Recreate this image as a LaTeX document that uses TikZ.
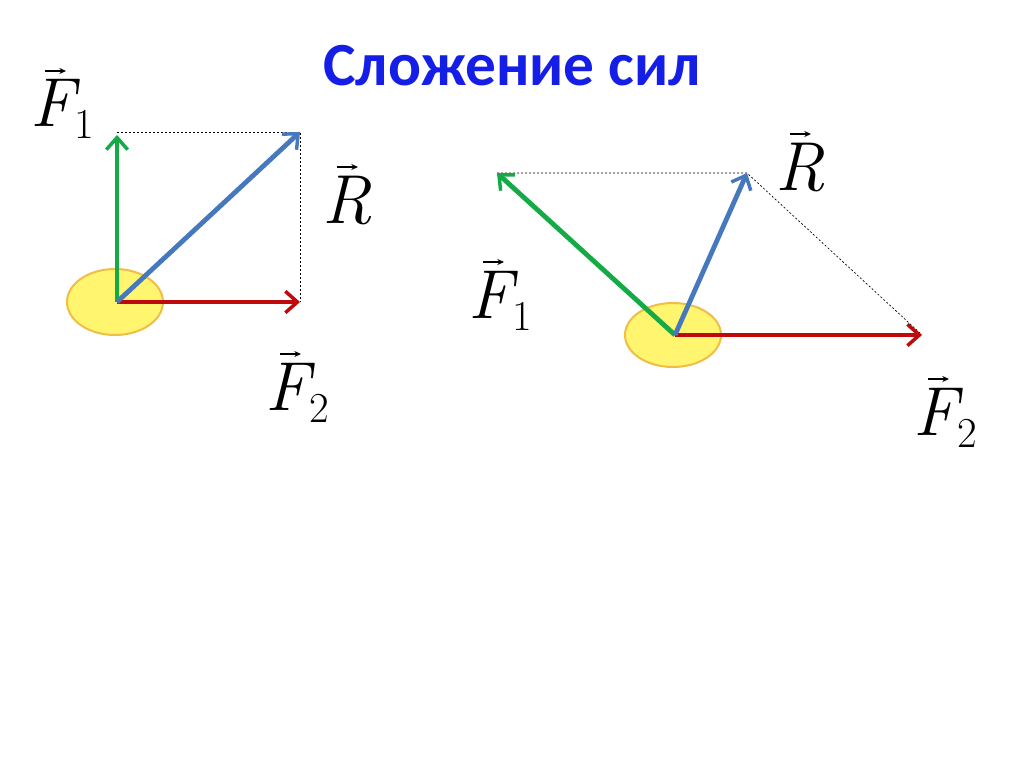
\documentclass[tikz,border=0pt]{standalone}
\usepackage{fontspec}
\newfontfamily\titlefont{Carlito}
\usetikzlibrary{arrows.meta}
\definecolor{tblue}{RGB}{20,30,230}
\definecolor{vgreen}{RGB}{20,170,70}
\definecolor{vblue}{RGB}{70,120,190}
\definecolor{vred}{RGB}{190,10,10}
\definecolor{ballfill}{RGB}{255,245,110}
\definecolor{balldraw}{RGB}{240,190,70}
\newcommand{\myvlab}[2]{{\fontsize{52}{60}\selectfont\itshape #1}{\fontsize{32}{36}\selectfont\raisebox{-9pt}{#2}}}
\begin{document}
\begin{tikzpicture}[x=0.75pt,y=-0.75pt,
  vec/.style={line width=3.6pt,-{Straight Barb[length=9pt,width=16pt,line width=2.6pt]}},
  ball/.style={draw=balldraw,line width=1.5pt,fill=ballfill},
  helper/.style={line width=0.5pt,dash pattern=on 1.5pt off 1.5pt},
  lab/.style={inner sep=0pt,anchor=base west},
  accarrow/.style={line width=1.2pt,-{Stealth[length=5pt,width=4.5pt]}}]
\fill[white] (0,0) rectangle (1024,767);
\useasboundingbox (0,0) rectangle (1024,767);
\node[text=tblue,font=\titlefont\bfseries\fontsize{46}{52}\selectfont] (title) at (512,66) {Сложение сил};
% left
\fill[ball] (115,302) ellipse [x radius=48,y radius=33];
\coordinate (o1) at (117,302);
\coordinate (a1) at (117,135);
\coordinate (b1) at (300,132);
\coordinate (c1) at (300,302);
\coordinate (d1) at (117,132);
\draw[helper] (d1) -- (b1) -- (c1);
\draw[vec,vgreen] (o1) -- (a1);
\draw[vec,vred] (o1) -- (c1);
\draw[vec,vblue] (o1) -- (b1);
\node[lab] (lf1) at (30,127) {\myvlab{F}{1}};
\node[lab] (lr1) at (322,223) {\myvlab{R}{}};
\node[lab] (lf2) at (265,410) {\myvlab{F}{2}};
% right
\fill[ball] (673,335) ellipse [x radius=48,y radius=32];
\coordinate (o2) at (675,335);
\coordinate (a2) at (497,173);
\coordinate (b2) at (747,173);
\coordinate (c2) at (922,335);
\draw[helper] (a2) -- (b2) -- (c2);
\draw[vec,vgreen] (o2) -- (a2);
\draw[vec,vred] (o2) -- (c2);
\draw[vec,vblue] (o2) -- (b2);
\node[lab] (lf3) at (468,318) {\myvlab{F}{1}};
\node[lab] (lr2) at (775,190) {\myvlab{R}{}};
\node[lab] (lf4) at (913,435) {\myvlab{F}{2}};
% vector accents
\foreach \n in {lf1,lf2,lf3,lf4,lr1,lr2}
  \draw[accarrow] ([xshift=11pt,yshift=42pt]\n.base west) -- ([xshift=27pt,yshift=42pt]\n.base west);
\end{tikzpicture}
\end{document}
